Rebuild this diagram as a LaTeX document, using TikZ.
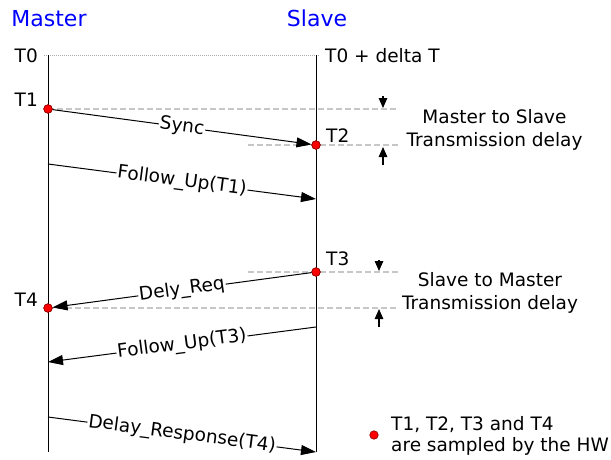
\documentclass[tikz,border=0pt]{standalone}
\usepackage{fontspec}
\setmainfont{DejaVu Sans}
\usetikzlibrary{arrows.meta}
\tikzset{
  txt/.style={inner sep=0pt, font=\fontsize{18.5}{21.5}\selectfont},
  ttl/.style={inner sep=0pt, text=blue, font=\fontsize{22}{26}\selectfont, anchor=base},
  life/.style={line width=1pt, black},
  msg/.style={line width=1pt, -{Triangle[length=15pt,width=10pt]}},
  lbl/.style={midway, sloped, fill=white, inner sep=1pt, font=\fontsize{18.5}{21.5}\selectfont},
  sample/.style={circle, minimum size=8.5pt, inner sep=0pt, fill=red, draw=red!55!black, line width=0.6pt},
  guide/.style={line width=2pt, draw=black!22, dash pattern=on 6pt off 3pt},
  zero/.style={line width=1pt, draw=black!32, dash pattern=on 1pt off 1pt},
  mark arrow/.style={line width=1.2pt, -{Triangle[length=10pt,width=8.5pt]}}
}
\begin{document}
\begin{tikzpicture}[x=1pt,y=-1pt]
\useasboundingbox (0,0) rectangle (611,459);
% titles
\node[ttl] (master) at (49,26.5) {Master};
\node[ttl] (slave) at (317,26.5) {Slave};
% lifeline end points
\coordinate (mtop) at (48,55);
\coordinate (mbot) at (48,452);
\coordinate (stop) at (316,55);
\coordinate (sbot) at (316,452);
\coordinate (z0a) at (44,55);
\coordinate (z0b) at (320,55);
% guide ends
\coordinate (g1a) at (48,109);   \coordinate (g1b) at (399,109);
\coordinate (g2a) at (248,145);  \coordinate (g2b) at (399,145);
\coordinate (g3a) at (248,272);  \coordinate (g3b) at (399,272);
\coordinate (g4a) at (48,308);   \coordinate (g4b) at (399,308);
% guides
\draw[zero] (z0a) -- (z0b);
\draw[guide] (g1a) -- (g1b);
\draw[guide] (g2a) -- (g2b);
\draw[guide] (g3a) -- (g3b);
\draw[guide] (g4a) -- (g4b);
% lifelines
\draw[life] (mtop) -- (mbot);
\draw[life] (stop) -- (sbot);
% time labels
\node[txt, anchor=base east] (lt0) at (38,62.5) {T0};
\node[txt, anchor=base west] (lt0d) at (325,62.5) {T0 + delta T};
\node[txt, anchor=base east] (lt1) at (38,106) {T1};
\node[txt, anchor=base west] (lt2) at (326,142) {T2};
\node[txt, anchor=base west] (lt3) at (326,265) {T3};
\node[txt, anchor=base east] (lt4) at (38,306.5) {T4};
% sample points
\node[sample] (t1) at (48,109) {};
\node[sample] (t2) at (316,145) {};
\node[sample] (t3) at (316,272) {};
\node[sample] (t4) at (48,308) {};
% message end points
\coordinate (f1a) at (48,164);  \coordinate (f1b) at (316,199);
\coordinate (f3a) at (316,327); \coordinate (f3b) at (48,362);
\coordinate (dra) at (48,417);  \coordinate (drb) at (316,452);
% messages
\draw[msg] (t1) -- (t2) node[lbl] {Sync};
\draw[msg] (f1a) -- (f1b) node[lbl] {Follow\_Up(T1)};
\draw[msg] (t3) -- (t4) node[lbl] {Dely\_Req};
\draw[msg] (f3a) -- (f3b) node[lbl] {Follow\_Up(T3)};
\draw[msg] (dra) -- (drb) node[lbl] {Delay\_Response(T4)};
\node[sample] at (t1) {};
\node[sample] at (t2) {};
\node[sample] at (t3) {};
\node[sample] at (t4) {};
% delay markers
\coordinate (a1s) at (383,96);  \coordinate (a1e) at (383,108);
\coordinate (a2s) at (383,165); \coordinate (a2e) at (383,147);
\coordinate (a3s) at (379,260); \coordinate (a3e) at (379,271);
\coordinate (a4s) at (379,327); \coordinate (a4e) at (379,309);
\draw[mark arrow] (a1s) -- (a1e);
\draw[mark arrow] (a2s) -- (a2e);
\draw[mark arrow] (a3s) -- (a3e);
\draw[mark arrow] (a4s) -- (a4e);
% delay texts
\node[txt, anchor=base] (ms1) at (494.5,123) {Master to Slave};
\node[txt, anchor=base] (ms2) at (494.5,146) {Transmission delay};
\node[txt, anchor=base] (sm1) at (490,286) {Slave to Master};
\node[txt, anchor=base] (sm2) at (490,309) {Transmission delay};
% legend
\node[sample] (leg) at (374,435) {};
\node[txt, anchor=base west] (lg1) at (391,430) {T1, T2, T3 and T4};
\node[txt, anchor=base west] (lg2) at (391,451.5) {are sampled by the HW};
\end{tikzpicture}
\end{document}
